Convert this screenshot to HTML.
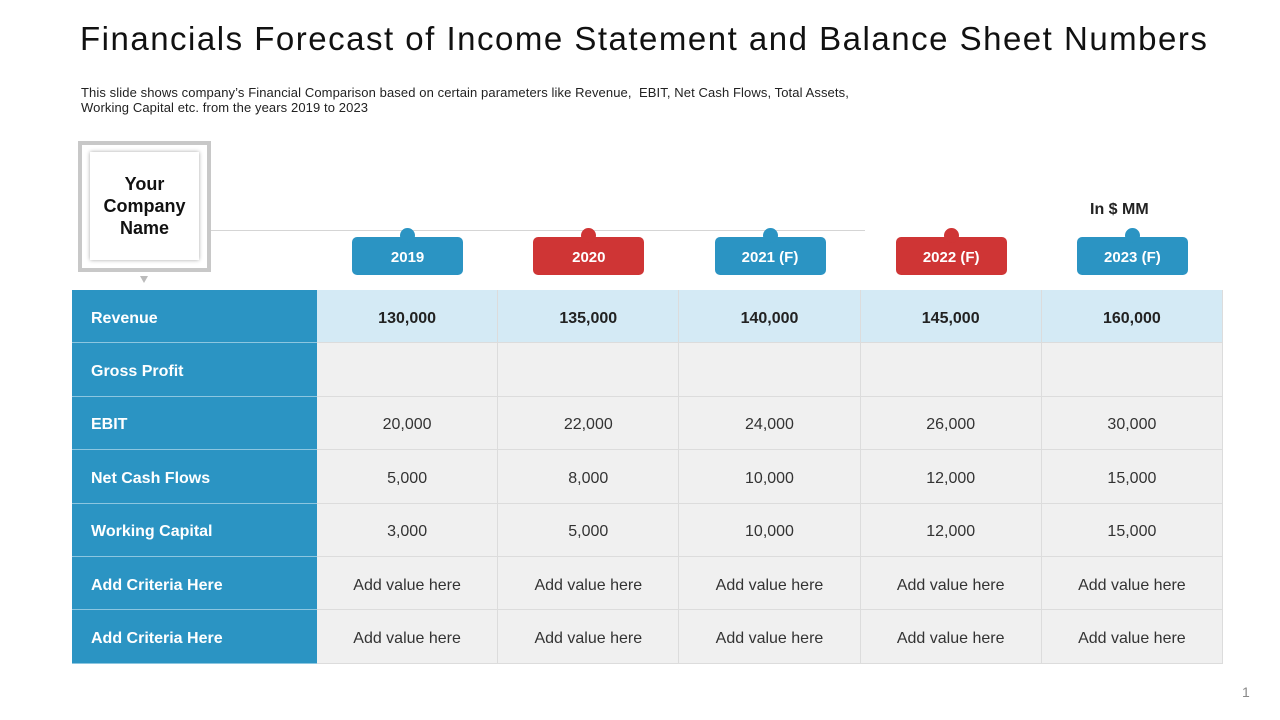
<!DOCTYPE html>
<html><head><meta charset="utf-8"><style>
body{margin:0;width:1280px;height:720px;background:#fff;font-family:"Liberation Sans",Arial,sans-serif;position:relative;overflow:hidden}
.abs{position:absolute}
h1{position:absolute;left:80px;top:20px;margin:0;font-weight:normal;font-size:33px;letter-spacing:1.5px;color:#111;white-space:nowrap}
.sub{left:81px;top:85px;font-size:13px;letter-spacing:0.1px;line-height:15px;color:#222;white-space:nowrap}
.badge{position:absolute;top:237px;width:111px;height:38px;border-radius:5px;color:#fff;font-weight:bold;font-size:15px;text-align:center;line-height:42px}
.knob{position:absolute;top:-9px;left:48px;width:15px;height:15px;border-radius:50%}
.blue{background:#2b94c3}.red{background:#cf3535}
.cell{position:absolute;display:flex;align-items:center;justify-content:center;padding-top:5px;font-size:16px;color:#333;box-sizing:border-box;border-right:1px solid #dcdcdc;border-bottom:1px solid #dcdcdc}
.lab{position:absolute;display:flex;align-items:center;padding-left:19px;padding-top:5px;box-sizing:border-box;background:#2b94c3;color:#fff;font-weight:bold;font-size:16px;border-bottom:1px solid #8cc6e0}
</style></head><body>
<h1>Financials Forecast of Income Statement and Balance Sheet Numbers</h1>
<div class="abs sub">This slide shows company’s Financial Comparison based on certain parameters like Revenue,&nbsp; EBIT, Net Cash Flows, Total Assets,<br>Working Capital etc. from the years 2019 to 2023</div>
<div class="abs" style="left:210px;top:230px;width:655px;height:1px;background:#d5d5d5"></div>
<div class="abs" style="left:78px;top:141px;width:125px;height:123px;border:4px solid #c8c8c8;background:#fff"></div>
<div class="abs" style="left:90px;top:152px;width:109px;height:108px;background:#fff;box-shadow:0 0 4px rgba(0,0,0,.35);display:flex;align-items:center;justify-content:center;text-align:center;font-weight:bold;font-size:18px;line-height:22px;color:#111">Your<br>Company<br>Name</div>
<div class="abs" style="left:140px;top:276px;width:0;height:0;border-left:4px solid transparent;border-right:4px solid transparent;border-top:7px solid #bbb"></div>
<div class="abs" style="left:1090px;top:201px;font-weight:bold;font-size:16px;color:#222">In $ MM</div>
<div id="root"></div>
<div class="abs" style="left:1242px;top:684px;font-size:14px;color:#888">1</div>
<script>
const years=["2019","2020","2021 (F)","2022 (F)","2023 (F)"];
const badgeColors=["blue","red","blue","red","blue"];
const criteria=["Revenue","Gross Profit","EBIT","Net Cash Flows","Working Capital","Add Criteria Here","Add Criteria Here"];
const revenue=["130,000","135,000","140,000","145,000","160,000"];
const grossProfit=["","","","",""];
const ebit=["20,000","22,000","24,000","26,000","30,000"];
const netCash=["5,000","8,000","10,000","12,000","15,000"];
const workingCap=["3,000","5,000","10,000","12,000","15,000"];
const add1=["Add value here","Add value here","Add value here","Add value here","Add value here"];
const add2=["Add value here","Add value here","Add value here","Add value here","Add value here"];
const rows=[revenue,grossProfit,ebit,netCash,workingCap,add1,add2];
const root=document.getElementById('root');
const x0=317,cw=181.2,y0=290,rh=53.4;
years.forEach((y,i)=>{
 const b=document.createElement('div');b.className='badge '+badgeColors[i];
 
 
 b.style.left=(x0+cw*i+cw/2-55.5)+'px';
 const k=document.createElement('div');k.className='knob '+badgeColors[i];b.appendChild(k);
 b.appendChild(document.createTextNode(y));root.appendChild(b);
});
criteria.forEach((c,r)=>{
 const l=document.createElement('div');l.className='lab';
 
 
 l.style.cssText+=`left:72px;top:${y0+rh*r}px;width:245px;height:${rh}px`;
 l.textContent=c;root.appendChild(l);
 rows[r].forEach((v,i)=>{
  const d=document.createElement('div');d.className='cell';
  
  
  d.style.cssText+=`left:${x0+cw*i}px;top:${y0+rh*r}px;width:${cw}px;height:${rh}px;background:${r==0?'#d4eaf5':'#f0f0f0'};${r==0?'font-weight:bold;color:#222;':''}`;
  d.textContent=v;root.appendChild(d);
 });
});
</script>
</body></html>
